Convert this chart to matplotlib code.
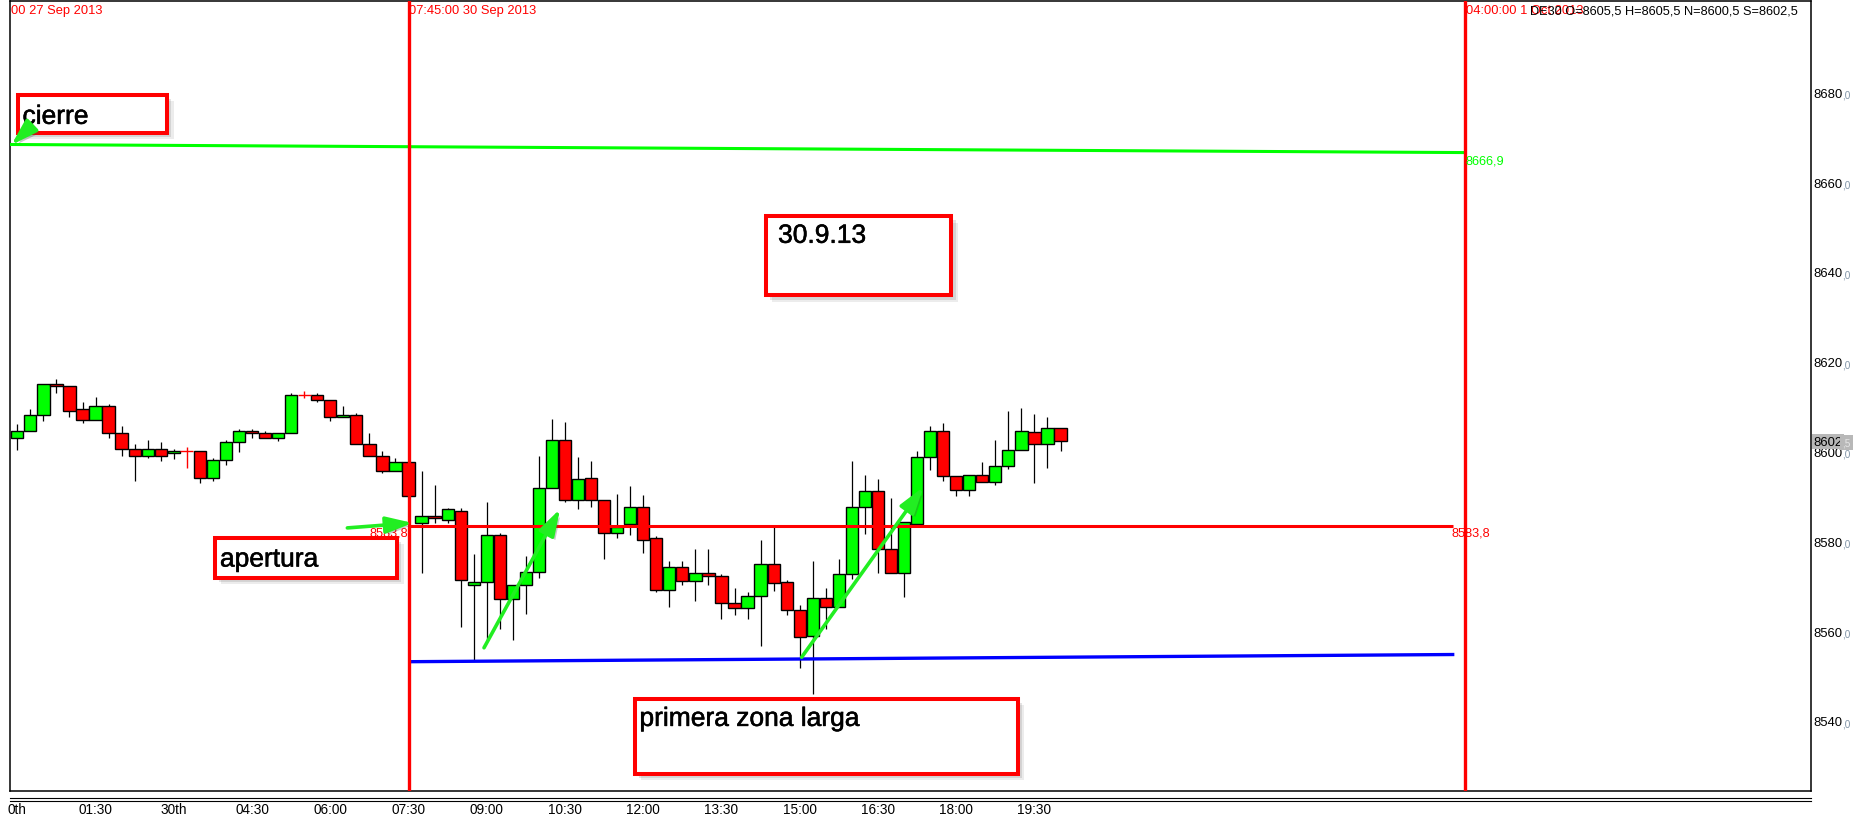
import numpy as np
import matplotlib
matplotlib.use('Agg')
import matplotlib.pyplot as plt
import matplotlib.patheffects as pe
from matplotlib import font_manager
from matplotlib.patches import Rectangle, FancyArrowPatch

# ── Fonts ─────────────────────────────────────────────────────────────────────
_names = {f.name for f in font_manager.fontManager.ttflist}
SANS = 'Liberation Sans' if 'Liberation Sans' in _names else 'DejaVu Sans'
plt.rcParams['font.family'] = [SANS, 'DejaVu Sans']

# ── Data (15 min candles, DE30) ───────────────────────────────────────────────
opens = [8603.3, 8604.8, 8608.4, 8615.3, 8614.8, 8609.8, 8607.3, 8610.4, 8604.4, 8600.8,
         8599.3, 8600.8, 8599.9, 8600.4, 8600.4, 8594.4, 8598.4, 8602.4, 8604.8, 8604.4,
         8603.3, 8604.4, 8612.8, 8612.8, 8611.8, 8607.9, 8608.4, 8601.9, 8599.3, 8595.9,
         8597.9, 8584.3, 8585.9, 8585.0, 8587.0, 8570.5, 8571.2, 8581.7, 8567.4, 8570.5,
         8573.4, 8592.1, 8602.8, 8589.5, 8594.4, 8589.5, 8582.1, 8584.2, 8587.9, 8581.0,
         8569.4, 8574.5, 8571.4, 8573.3, 8572.5, 8566.5, 8565.4, 8568.1, 8575.2, 8571.2,
         8565.0, 8559.2, 8567.6, 8565.6, 8573.0, 8587.9, 8591.5, 8578.5, 8573.2, 8584.2,
         8599.0, 8604.8, 8594.8, 8591.7, 8595.0, 8593.5, 8597.0, 8600.6, 8604.6, 8601.9,
         8605.5]
highs = [8606.5, 8609.8, 8615.3, 8616.5, 8614.8, 8611.4, 8612.5, 8610.9, 8605.9, 8602.0,
         8602.9, 8602.4, 8600.9, 8601.3, 8600.4, 8598.8, 8602.9, 8605.3, 8605.3, 8604.8,
         8604.4, 8613.4, 8613.9, 8613.4, 8611.8, 8610.5, 8608.8, 8604.5, 8600.4, 8598.9,
         8597.9, 8595.9, 8592.9, 8587.7, 8587.7, 8577.5, 8589.1, 8582.1, 8570.5, 8577.0,
         8599.3, 8607.6, 8606.8, 8599.1, 8598.2, 8589.5, 8590.9, 8592.7, 8590.6, 8581.4,
         8576.0, 8576.0, 8578.5, 8578.5, 8573.0, 8569.9, 8569.0, 8580.5, 8583.4, 8571.8,
         8566.2, 8575.9, 8569.9, 8576.4, 8598.2, 8595.0, 8594.1, 8590.0, 8584.6, 8600.5,
         8606.0, 8606.7, 8594.8, 8595.0, 8598.0, 8602.9, 8609.4, 8610.0, 8608.7, 8608.0,
         8605.5]
lows = [8600.7, 8604.8, 8607.2, 8613.3, 8607.9, 8606.7, 8607.3, 8603.3, 8599.3, 8593.8,
        8598.8, 8598.3, 8598.7, 8596.7, 8593.4, 8593.8, 8597.2, 8600.3, 8603.3, 8603.3,
        8602.7, 8604.4, 8612.3, 8611.3, 8607.2, 8607.9, 8601.9, 8599.3, 8595.5, 8595.9,
        8590.3, 8573.3, 8584.3, 8584.3, 8561.2, 8553.9, 8558.2, 8560.7, 8558.4, 8564.1,
        8572.1, 8592.1, 8589.0, 8587.5, 8587.9, 8576.3, 8581.0, 8581.8, 8577.8, 8569.0,
        8565.6, 8570.5, 8567.1, 8570.5, 8562.9, 8564.0, 8562.9, 8557.1, 8569.2, 8564.0,
        8552.0, 8546.3, 8560.7, 8565.6, 8572.0, 8582.0, 8573.3, 8573.2, 8567.8, 8584.2,
        8596.3, 8593.8, 8590.3, 8590.3, 8593.5, 8592.9, 8596.4, 8600.6, 8593.4, 8596.7,
        8600.5]
closes = [8604.8, 8608.4, 8615.3, 8614.8, 8609.3, 8607.3, 8610.4, 8604.4, 8600.8, 8599.3,
          8600.8, 8599.3, 8600.4, 8600.4, 8594.4, 8598.4, 8602.4, 8604.8, 8604.4, 8603.3,
          8604.4, 8612.8, 8612.8, 8611.8, 8607.9, 8608.4, 8601.9, 8599.3, 8595.9, 8597.9,
          8590.3, 8585.9, 8585.4, 8587.5, 8571.6, 8571.2, 8581.7, 8567.4, 8570.5, 8573.4,
          8592.1, 8602.8, 8589.5, 8594.1, 8589.5, 8582.1, 8583.4, 8587.9, 8580.6, 8569.4,
          8574.5, 8571.4, 8573.3, 8572.5, 8566.5, 8565.4, 8568.1, 8575.2, 8571.0, 8565.0,
          8558.9, 8567.6, 8565.6, 8573.0, 8587.9, 8591.5, 8578.5, 8573.2, 8584.6, 8599.0,
          8604.8, 8594.8, 8591.7, 8595.0, 8593.5, 8597.0, 8600.6, 8604.8, 8601.9, 8605.5,
          8602.6]

time_labels = ['0th', '01:30', '30th', '04:30', '06:00', '07:30', '09:00',
               '10:30', '12:00', '13:30', '15:00', '16:30', '18:00', '19:30']
price_ticks = [8540, 8560, 8580, 8600, 8620, 8640, 8660, 8680]

open_level = 8583.8              # "apertura" line
close_level = [8668.7, 8666.9]   # "cierre" line (start, end)
low_level = [8553.5, 8555.1]     # blue support line (start, end)
last_price = 8602.5
session_marks = [30, 111]        # bar index of the two vertical markers

info_text = 'DE30 O=8605,5 H=8605,5 N=8600,5 S=8602,5'
date_labels = ['00 27 Sep 2013', '07:45:00 30 Sep 2013', '04:00:00 1 Oct 2013']

# ── Style ─────────────────────────────────────────────────────────────────────
RED = '#ff0000'
GREEN = '#00ff00'
BLUE = '#0000ff'
ARROW_GREEN = '#22ee22'

fig = plt.figure(figsize=(18.57, 8.2), dpi=100)
fig.patch.set_facecolor('white')
ax = fig.add_axes([10 / 1857, 28 / 820, 1801 / 1857, 790 / 820])
ax.set_xlim(-0.56, 137.55)
ax.set_ylim(8524.7, 8700.66)

# ── Candles ───────────────────────────────────────────────────────────────────
o = np.array(opens); h = np.array(highs); l = np.array(lows); c = np.array(closes)
idx = np.arange(len(o))
doji = c == o
body = ~doji
colors = np.where(c > o, GREEN, RED)

ax.vlines(idx[body], l[body], h[body], color='black', lw=0.9, zorder=2)
ax.bar(idx[body], np.abs(c - o)[body], bottom=np.minimum(o, c)[body], width=0.94,
       color=colors[body], edgecolor='black', linewidth=1.0, zorder=3)
ax.vlines(idx[doji], l[doji], h[doji], color=RED, lw=1.0, zorder=3)
ax.hlines(o[doji], idx[doji] - 0.5, idx[doji] + 0.5, color=RED, lw=1.0, zorder=3)

# ── Levels ────────────────────────────────────────────────────────────────────
ax.plot([-0.56, session_marks[1]], close_level, color=GREEN, lw=2.2, zorder=4,
        solid_capstyle='butt')
ax.plot([session_marks[0], 110.1], [open_level, open_level], color=RED, lw=2.2,
        zorder=4, solid_capstyle='butt')
ax.plot([session_marks[0] + 0.1, 110.2], low_level, color=BLUE, lw=2.4, zorder=4,
        solid_capstyle='butt')
for xm in session_marks:
    ax.axvline(xm, color=RED, lw=2.4, zorder=5)

ax.text(26.97, 8582.2, '8583,8', color=RED, fontsize=9.2, va='center', ha='left', zorder=4)
ax.text(110.0, 8582.3, '8583,8', color=RED, fontsize=9.2, va='center', ha='left', zorder=6)
ax.text(111.07, 8665.1, '8666,9', color=GREEN, fontsize=9.2, va='center', ha='left', zorder=6)

# ── Header texts ──────────────────────────────────────────────────────────────
xt = ax.get_xaxis_transform()
ax.text(-0.48, 0.9886, date_labels[0], transform=xt, color=RED, fontsize=9.3, va='center')
ax.text(30.04, 0.9886, date_labels[1], transform=xt, color=RED, fontsize=9.3, va='center')
ax.text(111.07, 0.9886, date_labels[2], transform=xt, color=RED, fontsize=9.3, va='center')
ax.text(116.0, 0.9886, info_text, transform=xt, color='black', fontsize=9.2, va='center',
        zorder=7)

# ── Annotation boxes ──────────────────────────────────────────────────────────
shadow = [pe.SimplePatchShadow(offset=(1.5, -1.5), shadow_rgbFace='0.3', alpha=0.18),
          pe.SimplePatchShadow(offset=(3, -3), shadow_rgbFace='0.3', alpha=0.15),
          pe.SimplePatchShadow(offset=(4.5, -4.5), shadow_rgbFace='0.3', alpha=0.1),
          pe.Normal()]

boxes = [
    ((0.04, 8671.3), 11.46, 8.4, 'cierre', (0.40, 8673.3)),
    ((57.42, 8635.1), 14.21, 17.6, '30.9.13', (58.34, 8646.8)),
    ((15.14, 8572.15), 14.0, 8.85, 'apertura', (15.54, 8574.7)),
    ((47.35, 8528.5), 29.39, 16.77, 'primera zona larga', (47.71, 8539.2)),
]
for (x0, y0), w, hh, label, (tx, ty) in boxes:
    r = Rectangle((x0, y0), w, hh, facecolor='white', edgecolor=RED, lw=2.9, zorder=6)
    r.set_path_effects(shadow)
    ax.add_patch(r)
    ax.text(tx, ty, label, fontsize=19, color='black', va='baseline', ha='left', zorder=7,
            path_effects=[pe.withStroke(linewidth=0.4, foreground='black')])

# ── Arrows ────────────────────────────────────────────────────────────────────
arrows = [
    ((1.10, 8672.9), (-0.45, 8668.6)),
    ((25.31, 8583.3), (30.32, 8584.4)),
    ((35.79, 8556.6), (41.62, 8587.5)),
    ((60.15, 8554.5), (69.48, 8592.4)),
]
for a, b in arrows:
    arr = FancyArrowPatch(a, b, arrowstyle='-|>,head_length=0.8,head_width=0.25',
                          mutation_scale=20, color=ARROW_GREEN, lw=2.6,
                          shrinkA=0, shrinkB=0, zorder=8)
    arr.set_path_effects([pe.SimplePatchShadow(offset=(2, -2), shadow_rgbFace='0.3',
                                               alpha=0.3), pe.Normal()])
    ax.add_patch(arr)

# ── Axes ──────────────────────────────────────────────────────────────────────
ax.set_xticks(list(range(0, 6 * len(time_labels), 6)), time_labels)
ax.tick_params(axis='x', length=0, pad=8.0, labelsize=9.8)
ax.set_yticks([])
for s in ax.spines.values():
    s.set_color('black')
    s.set_linewidth(1.1)

yt = ax.get_yaxis_transform()
for v in price_ticks:
    t = ax.text(1.0012, v, f'{v}', transform=yt, fontsize=9.4, color='black',
                va='center', ha='left', clip_on=False)
    ax.annotate(',0', xy=(1, 0), xycoords=t, fontsize=7.2, color='#8093a6',
                va='bottom', ha='left')

t = ax.text(1.0012, last_price, f'{int(last_price)}', transform=yt, fontsize=9.4,
            color='black', va='center', ha='left', clip_on=False, zorder=10,
            bbox=dict(boxstyle='square,pad=0.12', fc='#b8b8b8', ec='none'))
ax.annotate(',5', xy=(1, 0), xycoords=t, fontsize=7.2, color='#e6e6e6',
            va='bottom', ha='left', zorder=10,
            bbox=dict(boxstyle='square,pad=0.25', fc='#b8b8b8', ec='none'))

# double rule under the plot
for yy in (-0.0092, -0.0130):
    ax.plot([0, 1], [yy, yy], transform=ax.transAxes, color='black', lw=0.8,
            clip_on=False)

fig.savefig('out.png', dpi=100, facecolor='white')
